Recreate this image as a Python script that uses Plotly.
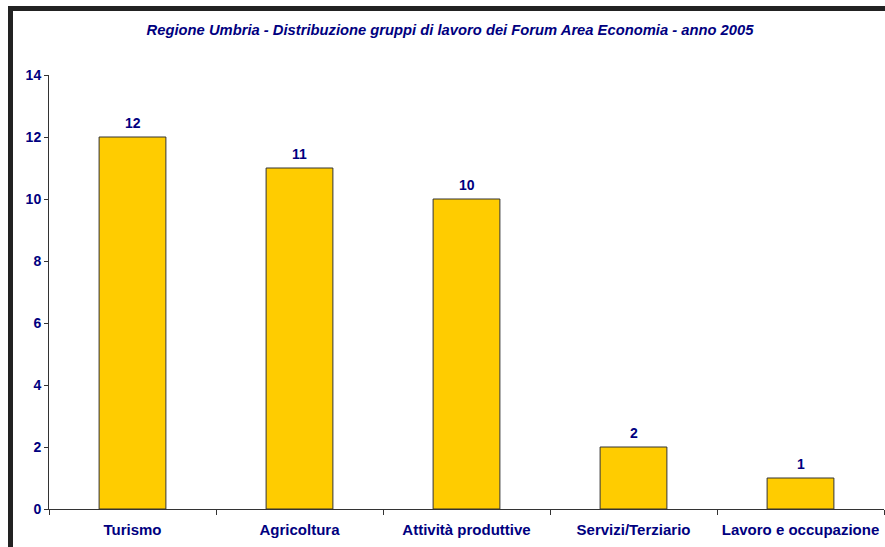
import plotly.graph_objects as go

categories = ["Turismo", "Agricoltura", "Attività produttive", "Servizi/Terziario", "Lavoro e occupazione"]
values = [12, 11, 10, 2, 1]
y_ticks = [0, 2, 4, 6, 8, 10, 12, 14]
title_text = "Regione Umbria - Distribuzione gruppi di lavoro dei Forum Area Economia - anno 2005"

NAVY = "#000080"
FONT = "Liberation Sans, Arial, sans-serif"

W, H = 885, 547
L, R, T, B = 49, 1, 75, 38
pw, ph = W - L - R, H - T - B

def px_x(px):
    return (px - L) / pw

def px_y(py):
    return (H - B - py) / ph

fig = go.Figure(
    go.Bar(
        x=categories,
        y=values,
        width=0.4,
        marker=dict(color="#FFCC00", line=dict(color="#333333", width=1)),
        hoverinfo="skip",
    )
)

annotations = [
    dict(x=c, y=v, xref="x", yref="y", text=str(v), showarrow=False,
         yanchor="bottom", yshift=4,
         font=dict(family=FONT, size=14, color=NAVY, weight="bold"))
    for c, v in zip(categories, values)
]

fig.update_layout(
    width=W,
    height=H,
    margin=dict(l=L, r=R, t=T, b=B),
    paper_bgcolor="white",
    plot_bgcolor="white",
    showlegend=False,
    annotations=annotations,
    title=dict(
        text="<i>" + title_text + "</i>",
        x=450 / W,
        xanchor="center",
        y=1 - 30 / H,
        yanchor="middle",
        font=dict(family=FONT, size=14.75, color=NAVY, weight="bold"),
    ),
    xaxis=dict(
        type="category",
        showline=True,
        linecolor="#333333",
        linewidth=1,
        ticks="outside",
        tickson="boundaries",
        ticklen=5,
        tickcolor="#333333",
        showgrid=False,
        ticklabelstandoff=7,
        tickfont=dict(family=FONT, size=15, color=NAVY, weight="bold"),
    ),
    yaxis=dict(
        range=[0, 14],
        tickvals=y_ticks,
        showline=True,
        linecolor="#333333",
        linewidth=1,
        ticks="outside",
        ticklen=4,
        tickcolor="#333333",
        showgrid=False,
        zeroline=False,
        tickfont=dict(family=FONT, size=14, color=NAVY, weight="bold"),
    ),
    shapes=[
        dict(type="rect", xref="paper", yref="paper",
             x0=px_x(8), x1=px_x(13), y0=px_y(547), y1=px_y(6),
             fillcolor="#222222", line=dict(width=0), layer="above"),
        dict(type="rect", xref="paper", yref="paper",
             x0=px_x(8), x1=px_x(885), y0=px_y(11), y1=px_y(6),
             fillcolor="#222222", line=dict(width=0), layer="above"),
    ],
)

fig.write_html(
    "out.html",
    config={"displayModeBar": False},
    post_script="document.body.style.margin='0';document.body.style.overflow='hidden';",
)
